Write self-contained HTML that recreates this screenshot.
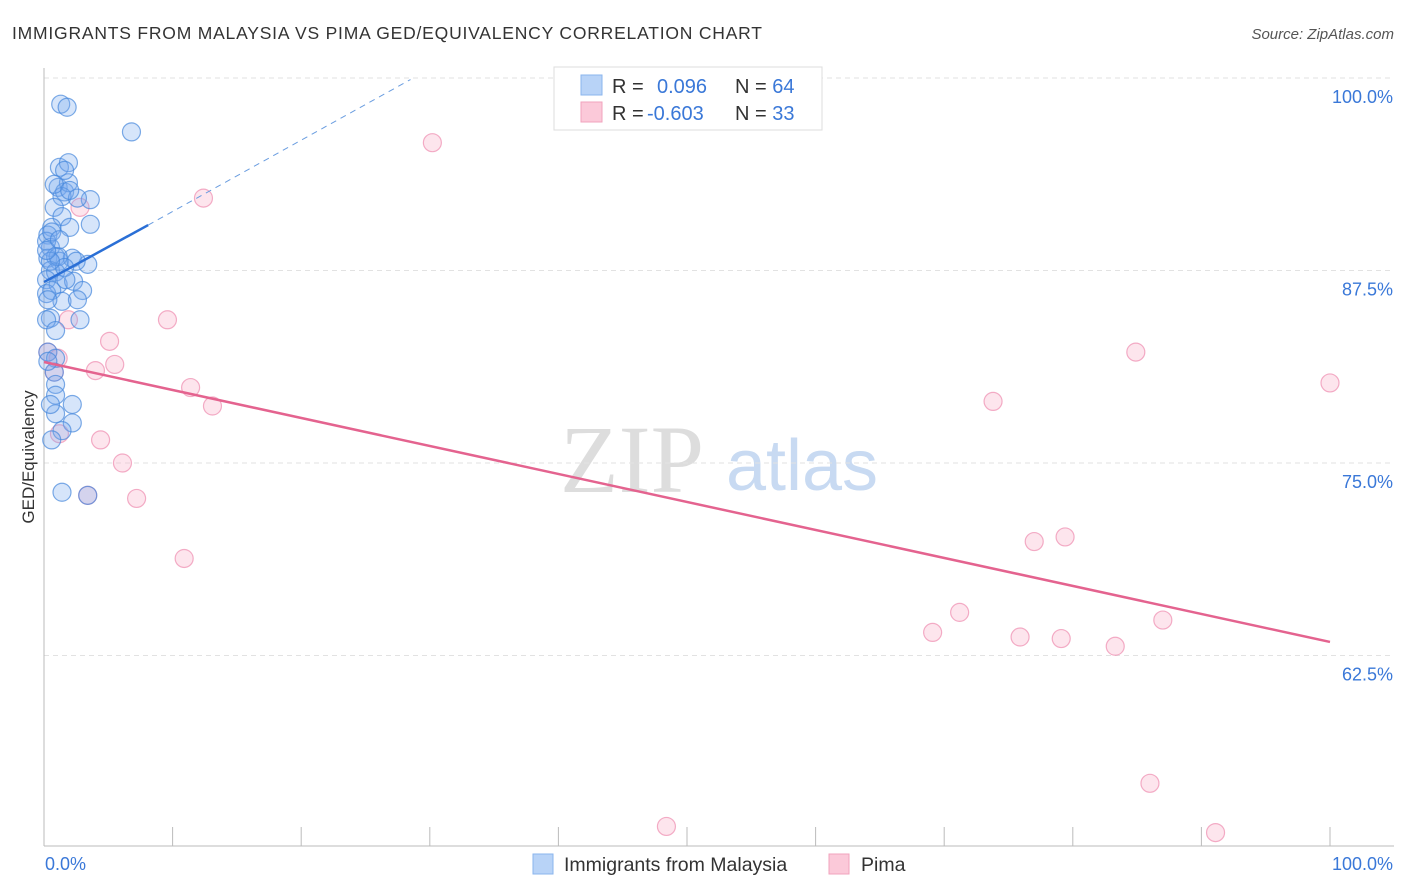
<!DOCTYPE html>
<html><head><meta charset="utf-8"><style>
body{margin:0;background:#fff;font-family:"Liberation Sans",sans-serif}
svg{display:block}
</style></head><body>
<svg id="c" width="1406" height="892">
<text x="12" y="39" font-size="17.5" fill="#333" textLength="750">IMMIGRANTS FROM MALAYSIA VS PIMA GED/EQUIVALENCY CORRELATION CHART</text>
<text x="1394" y="39" font-size="15" fill="#555" font-style="italic" text-anchor="end">Source: ZipAtlas.com</text>
<g>
<text x="632" y="492" font-family="Liberation Serif,serif" font-size="96" fill="#ddd" text-anchor="middle">ZIP</text>
<text x="802" y="490" font-size="72" fill="#c8daf2" text-anchor="middle">atlas</text>
</g>
<g id="grid"></g><g id="marks"></g>
<text transform="translate(34,457) rotate(-90)" font-size="17" fill="#333" text-anchor="middle">GED/Equivalency</text>
<g>
<rect x="554" y="67" width="268" height="63" fill="#fff" stroke="#ddd"/>
<rect x="581" y="75" width="21" height="20" fill="#b8d3f7" stroke="#8ab4ee"/>
<rect x="581" y="102" width="21" height="20" fill="#fbc9d9" stroke="#f2a3bd"/>
<text x="612" y="93" font-size="20" fill="#333">R = <tspan x="657" fill="#3a78d8">0.096</tspan><tspan x="735" fill="#333">N = </tspan><tspan fill="#3a78d8">64</tspan></text>
<text x="612" y="120" font-size="20" fill="#333">R = <tspan x="647" fill="#3a78d8">-0.603</tspan><tspan x="735" fill="#333">N = </tspan><tspan fill="#3a78d8">33</tspan></text>
</g>
<g>
<rect x="533" y="854" width="20" height="20" fill="#b8d3f7" stroke="#8ab4ee"/>
<text x="564" y="871" font-size="19.5" fill="#333">Immigrants from Malaysia</text>
<rect x="829" y="854" width="20" height="20" fill="#fbc9d9" stroke="#f2a3bd"/>
<text x="861" y="871" font-size="19.5" fill="#333">Pima</text>
</g>
</svg>
<script>
const blueX=[1.3,1.8,6.8,1.2,1.9,1.1,1.6,1.9,1.4,3.6,2.6,0.8,1.4,2.0,3.6,0.6,0.3,0.5,0.2,0.3,0.9,1.2,2.2,3.4,2.5,0.5,0.9,0.2,1.1,2.3,3.0,0.2,0.6,1.4,2.6,0.5,2.8,0.2,0.3,0.9,0.8,0.9,2.2,0.9,0.9,2.2,1.4,1.4,3.4,1.6,0.8,2.0,1.1,1.6,0.3,1.7,0.5,0.2,0.6,1.2,0.9,0.3,0.5,0.6];
const blueY=[98.3,98.1,96.5,94.2,94.5,92.9,92.6,93.2,92.3,92.1,92.2,91.6,91.0,90.3,90.5,90.3,89.8,89.0,89.4,88.3,88.4,88.1,88.3,87.9,88.1,87.5,87.4,86.9,86.6,86.8,86.2,86.0,86.2,85.5,85.6,84.4,84.3,84.3,82.2,81.8,80.9,80.1,78.8,79.4,78.2,77.6,77.1,73.1,72.9,94.0,93.1,92.7,88.4,87.7,85.6,86.9,88.1,88.8,90.0,89.5,83.6,81.6,78.8,76.5];
const pinkX=[30.2,12.4,2.8,9.6,1.9,5.1,5.5,4.0,11.4,13.1,4.4,1.2,6.1,3.4,7.2,10.9,84.9,100,73.8,77.0,79.4,71.2,69.1,75.9,79.1,83.3,87.0,86.0,48.4,91.1,0.8,0.3,1.1];
const pinkY=[95.8,92.2,91.6,84.3,84.3,82.9,81.4,81.0,79.9,78.7,76.5,76.9,75.0,72.9,72.7,68.8,82.2,80.2,79.0,69.9,70.2,65.3,64.0,63.7,63.6,63.1,64.8,54.2,51.4,51.0,80.9,82.2,81.8];
const yTicks=[100,87.5,75,62.5];
const yTickLabels=["100.0%","87.5%","75.0%","62.5%"];
const blueTrend=[0,86.75,8.1,90.45,28.5,99.9];
const pinkTrend=[0,81.56,100,63.38];
const NS="http://www.w3.org/2000/svg";
const sx=v=>44+v*12.86, sy=v=>78+(100-v)*15.4;
function mk(t,a,p){const e=document.createElementNS(NS,t);for(const k in a)e.setAttribute(k,a[k]);p.appendChild(e);return e;}
const g=document.getElementById('grid'),m=document.getElementById('marks');
yTicks.forEach((t,i)=>{
 const l=mk('line',{x1:44,x2:1394,y1:sy(t),y2:sy(t),stroke:'#e2e2e2','stroke-dasharray':'5,4'},g);
 
 
 const tx=mk('text',{x:1393,y:sy(t)+25,'font-size':18,fill:'#3a78d8','text-anchor':'end'},g);
 tx.textContent=yTickLabels[i];
 
 
});
const ax=mk('line',{x1:44,x2:44,y1:68,y2:846,stroke:'#bbb'},g);


const bx=mk('line',{x1:44,x2:1394,y1:846,y2:846,stroke:'#bbb'},g);


for(let i=0;i<=10;i++){const t=mk('line',{x1:sx(i*10),x2:sx(i*10),y1:827,y2:846,stroke:'#bbb'},g);
 
 }
[[sx(0)+1,'start','0.0%'],[sx(100)+63,'end','100.0%']].forEach(a=>{const t=mk('text',{x:a[0],y:870,'font-size':18,fill:'#3a78d8','text-anchor':a[1]},g);t.textContent=a[2];
 
 });
function dots(X,Y,fill,stroke,name){X.forEach((x,i)=>{const c=mk('circle',{cx:sx(x),cy:sy(Y[i]),r:9,fill:fill,stroke:stroke,'stroke-width':1.2},m);
 
 });}
dots(pinkX,pinkY,'rgba(248,170,196,0.3)','rgba(238,140,175,0.7)','pima-point');
dots(blueX,blueY,'rgba(120,170,240,0.3)','rgba(70,135,220,0.7)','malaysia-point');
const b1=mk('line',{x1:sx(blueTrend[0]),y1:sy(blueTrend[1]),x2:sx(blueTrend[2]),y2:sy(blueTrend[3]),stroke:'#2a6fd6','stroke-width':2.5},m);


const b2=mk('line',{x1:sx(blueTrend[2]),y1:sy(blueTrend[3]),x2:sx(blueTrend[4]),y2:sy(blueTrend[5]),stroke:'#6a9de0','stroke-width':1,'stroke-dasharray':'6,5'},m);


const p1=mk('line',{x1:sx(pinkTrend[0]),y1:sy(pinkTrend[1]),x2:sx(pinkTrend[2]),y2:sy(pinkTrend[3]),stroke:'#e4638f','stroke-width':2.5},m);


</script>
</body></html>
